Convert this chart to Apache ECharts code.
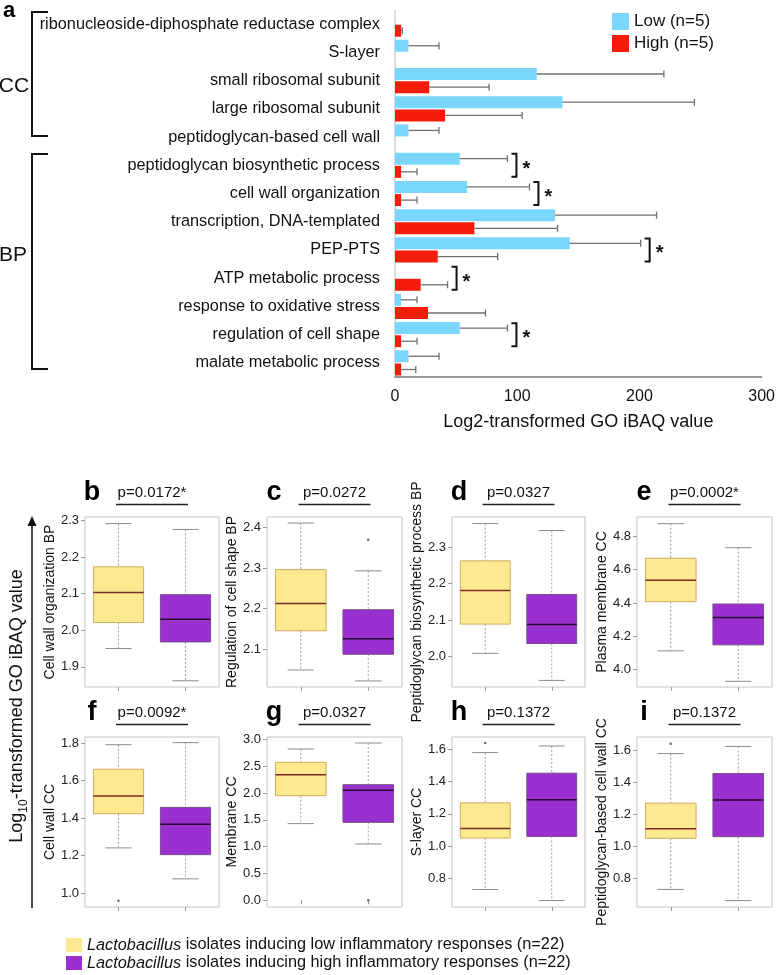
<!DOCTYPE html>
<html>
<head>
<meta charset="utf-8">
<script src="https://cdn.jsdelivr.net/npm/echarts@6/dist/echarts.min.js"></script>
<style>
  html, body { margin: 0; padding: 0; background: #fff; }
  #chart { width: 778px; height: 975px; }
</style>
</head>
<body>
<div id="chart"></div>
<script>
const FONT = '"Liberation Sans", Arial, Helvetica, sans-serif';

// ---- panel a: GO terms, mean and error of log2 iBAQ ----
const goTerms = [
    'ribonucleoside-diphosphate reductase complex',
    'S-layer',
    'small ribosomal subunit',
    'large ribosomal subunit',
    'peptidoglycan-based cell wall',
    'peptidoglycan biosynthetic process',
    'cell wall organization',
    'transcription, DNA-templated',
    'PEP-PTS',
    'ATP metabolic process',
    'response to oxidative stress',
    'regulation of cell shape',
    'malate metabolic process'
];
const lowMean  = [0, 11, 116, 137, 11, 53, 59, 131, 143, 0, 5, 53, 11];
const lowErr   = [0, 25, 104, 108, 25, 39, 51, 83, 58, 0, 13, 39, 25];
const highMean = [5, 0, 28, 41, 0, 5, 5, 65, 35, 21, 27, 5, 5];
const highErr  = [1, 0, 49, 63, 0, 13, 13, 68, 49, 22, 47, 13, 12];
const sigRows  = [5, 6, 8, 9, 11];
const barLegend = ['Low (n=5)', 'High (n=5)'];

// ---- panels b-i: boxplots [min, q1, median, q3, max] ----
const panelLetters = ['b', 'c', 'd', 'e', 'f', 'g', 'h', 'i'];
const panelNames = [
    'Cell wall organization BP',
    'Regulation of cell shape BP',
    'Peptidoglycan biosynthetic process BP',
    'Plasma membrane CC',
    'Cell wall CC',
    'Membrane CC',
    'S-layer CC',
    'Peptidoglycan-based cell wall CC'
];
const panelP = ['p=0.0172*', 'p=0.0272', 'p=0.0327', 'p=0.0002*', 'p=0.0092*', 'p=0.0327', 'p=0.1372', 'p=0.1372'];
const lowBox = [
    [1.950, 2.021, 2.103, 2.173, 2.291],
    [2.048, 2.145, 2.212, 2.296, 2.411],
    [2.009, 2.089, 2.181, 2.262, 2.364],
    [4.113, 4.408, 4.536, 4.669, 4.876],
    [1.241, 1.423, 1.517, 1.660, 1.791],
    [1.429, 1.950, 2.342, 2.571, 2.819],
    [0.729, 1.049, 1.109, 1.268, 1.581],
    [0.730, 1.050, 1.110, 1.270, 1.580]
];
const highBox = [
    [1.862, 1.968, 2.030, 2.097, 2.275],
    [2.021, 2.087, 2.125, 2.197, 2.293],
    [1.935, 2.036, 2.088, 2.170, 2.345],
    [3.930, 4.149, 4.313, 4.394, 4.732],
    [1.076, 1.205, 1.367, 1.457, 1.802],
    [1.050, 1.453, 2.050, 2.155, 2.931],
    [0.660, 1.059, 1.288, 1.453, 1.622],
    [0.660, 1.060, 1.290, 1.455, 1.625]
];
const lowOutliers  = [[], [], [], [], [0.959], [], [1.641], [1.642]];
const highOutliers = [[], [2.370], [], [], [], [0.0], [], []];
const axisMin = [1.845, 2.006, 1.917, 3.896, 0.926, -0.124, 0.620, 0.620];
const axisMax = [2.309, 2.426, 2.382, 4.916, 1.832, 3.043, 1.678, 1.684];
const axisTicks = [
    [1.9, 2.0, 2.1, 2.2, 2.3],
    [2.1, 2.2, 2.3, 2.4],
    [2.0, 2.1, 2.2, 2.3],
    [4.0, 4.2, 4.4, 4.6, 4.8],
    [1.0, 1.2, 1.4, 1.6, 1.8],
    [0.0, 0.5, 1.0, 1.5, 2.0, 2.5, 3.0],
    [0.8, 1.0, 1.2, 1.4, 1.6],
    [0.8, 1.0, 1.2, 1.4, 1.6]
];
const groupNames = ['low', 'high'];
const groupLegend = [
    '{i|Lactobacillus} isolates inducing low inflammatory responses (n=22)',
    '{i|Lactobacillus} isolates inducing high inflammatory responses (n=22)'
];

// layout
const colLeft = [85, 267, 452, 637];
const colWidth = [134, 135, 133, 135];
const colNameGap = [25, 25, 28, 28];
const rowTop = [517, 737];
const panelH = 170;

const chart = echarts.init(document.getElementById('chart'));

function errSeries(means, errs, offset) {
    let data = [];
    means.forEach((m, i) => {
        if (m > 0) data.push([m, i, m + errs[i]]);
    });
    return {
        type: 'custom',
        xAxisIndex: 0,
        yAxisIndex: 0,
        encode: { x: [0, 2], y: 1 },
        data: data,
        z: 3,
        renderItem: (params, api) => {
            let p0 = api.coord([api.value(0), api.value(1)]);
            let p1 = api.coord([api.value(2), api.value(1)]);
            let y = p0[1] + offset;
            let st = { stroke: '#707070', lineWidth: 1.3 };
            return {
                type: 'group',
                children: [
                    { type: 'line', shape: { x1: p0[0], y1: y, x2: p1[0], y2: y }, style: st },
                    { type: 'line', shape: { x1: p1[0], y1: y - 3.5, x2: p1[0], y2: y + 3.5 }, style: st }
                ]
            };
        }
    };
}

function bracketSeries() {
    let data = sigRows.map(i => [i, Math.max(lowMean[i] + lowErr[i], highMean[i] + highErr[i])]);
    return {
        type: 'custom',
        xAxisIndex: 0,
        yAxisIndex: 0,
        encode: { x: 1, y: 0 },
        data: data,
        z: 4,
        renderItem: (params, api) => {
            let c = api.coord([api.value(1), api.value(0)]);
            let x = c[0], y = c[1];
            return {
                type: 'group',
                children: [
                    {
                        type: 'polyline',
                        shape: { points: [[x + 4, y - 11.5], [x + 9, y - 11.5], [x + 9, y + 11.5], [x + 4, y + 11.5]] },
                        style: { stroke: '#111', lineWidth: 2, fill: null }
                    },
                    {
                        type: 'text',
                        style: { text: '*', x: x + 15, y: y + 4, fontSize: 20, fontWeight: 'bold', fontFamily: FONT, fill: '#111', align: 'left', verticalAlign: 'middle' }
                    }
                ]
            };
        }
    };
}

function boxRender(fill, edge, mid) {
    return (params, api) => {
        let idx = api.value(0);
        let p = [1, 2, 3, 4, 5].map(d => api.coord([idx, api.value(d)]));
        let cx = p[0][0];
        let half = api.size([1, 0])[0] * 0.375;
        let cap = half * 0.52;
        let dash = { stroke: '#a0a0a0', lineWidth: 1, lineDash: [2, 2] };
        let solid = { stroke: '#8c8c8c', lineWidth: 1 };
        return {
            type: 'group',
            children: [
                { type: 'line', shape: { x1: cx, y1: p[4][1], x2: cx, y2: p[3][1] }, style: dash },
                { type: 'line', shape: { x1: cx, y1: p[1][1], x2: cx, y2: p[0][1] }, style: dash },
                { type: 'line', shape: { x1: cx - cap, y1: p[4][1], x2: cx + cap, y2: p[4][1] }, style: solid },
                { type: 'line', shape: { x1: cx - cap, y1: p[0][1], x2: cx + cap, y2: p[0][1] }, style: solid },
                { type: 'rect', shape: { x: cx - half, y: p[3][1], width: half * 2, height: p[1][1] - p[3][1] }, style: { fill: fill, stroke: edge, lineWidth: 1 } },
                { type: 'line', shape: { x1: cx - half, y1: p[2][1], x2: cx + half, y2: p[2][1] }, style: { stroke: mid, lineWidth: 1.5 } }
            ]
        };
    };
}

let grids = [{ left: 395, top: 10, width: 371, height: 367 }];
let xAxes = [{
    gridIndex: 0, type: 'value', min: 0, max: 300, interval: 100,
    axisLine: { show: true, lineStyle: { color: '#777', width: 1.5 } },
    axisTick: { show: false }, splitLine: { show: false },
    axisLabel: { fontSize: 16, color: '#111', margin: 12 },
    name: 'Log2-transformed GO iBAQ value', nameLocation: 'middle', nameGap: 36,
    nameTextStyle: { fontSize: 18, color: '#111' }
}];
let yAxes = [{
    gridIndex: 0, type: 'category', data: goTerms, inverse: true,
    axisLine: { show: true, lineStyle: { color: '#d0d0d0', width: 1.5 } },
    axisTick: { show: false },
    axisLabel: { fontSize: 16.3, color: '#111', margin: 15 }
}];
let series = [
    { name: barLegend[0], type: 'bar', xAxisIndex: 0, yAxisIndex: 0, data: lowMean, barWidth: 12, barGap: '10%', itemStyle: { color: '#7ad6fb' } },
    { name: barLegend[1], type: 'bar', xAxisIndex: 0, yAxisIndex: 0, data: highMean, barWidth: 12, barGap: '10%', itemStyle: { color: '#f41d0b' } },
    errSeries(lowMean, lowErr, -6.6),
    errSeries(highMean, highErr, 6.6),
    bracketSeries()
];
let graphics = [
    { type: 'text', x: 3, y: 0, style: { text: 'a', fontSize: 22, fontWeight: 'bold', fontFamily: FONT, fill: '#000' } },
    { type: 'text', x: 14, y: 86, style: { text: 'CC', fontSize: 21, fontFamily: FONT, fill: '#111', align: 'center', verticalAlign: 'middle' } },
    { type: 'polyline', shape: { points: [[48, 12], [32, 12], [32, 136], [48, 136]] }, style: { stroke: '#111', lineWidth: 2, fill: null } },
    { type: 'text', x: 13, y: 255, style: { text: 'BP', fontSize: 21, fontFamily: FONT, fill: '#111', align: 'center', verticalAlign: 'middle' } },
    { type: 'polyline', shape: { points: [[48, 154], [32, 154], [32, 369], [48, 369]] }, style: { stroke: '#111', lineWidth: 2, fill: null } },
    // shared y label with arrow
    { type: 'line', shape: { x1: 32, y1: 908, x2: 32, y2: 522 }, style: { stroke: '#111', lineWidth: 1.5 } },
    { type: 'polygon', shape: { points: [[27.5, 526], [36.5, 526], [32, 516]] }, style: { fill: '#111' } },
    {
        type: 'text', x: 15, y: 706, rotation: Math.PI / 2,
        style: {
            text: '{n|Log}{s|10}{n|-transformed GO iBAQ value}',
            align: 'center', verticalAlign: 'middle', fill: '#111',
            rich: {
                n: { fontSize: 18, fontFamily: FONT, lineHeight: 22, verticalAlign: 'bottom' },
                s: { fontSize: 12, fontFamily: FONT, lineHeight: 22, verticalAlign: 'bottom', padding: [0, 0, -4, 0] }
            }
        }
    }
];

panelLetters.forEach((letter, k) => {
    let col = k % 4, row = Math.floor(k / 4);
    let left = colLeft[col], top = rowTop[row], w = colWidth[col];
    let gi = k + 1;
    grids.push({ left: left, top: top, width: w, height: panelH, show: true, borderColor: '#c4c4c4', borderWidth: 1 });
    xAxes.push({
        gridIndex: gi, type: 'category', data: groupNames,
        axisLine: { show: false },
        axisTick: { show: true, alignWithLabel: true, length: 4, lineStyle: { color: '#999' } },
        axisLabel: { show: false }
    });
    yAxes.push({
        gridIndex: gi, type: 'value', min: axisMin[k], max: axisMax[k],
        axisLine: { show: false },
        splitLine: { show: false },
        axisTick: { show: true, length: 4, customValues: axisTicks[k], lineStyle: { color: '#999' } },
        axisLabel: { customValues: axisTicks[k], formatter: v => v.toFixed(1), fontSize: 13, color: '#222', margin: 6 },
        name: panelNames[k], nameLocation: 'middle', nameGap: colNameGap[col],
        nameTextStyle: { fontSize: 14, color: '#111' }
    });
    series.push({
        name: groupNames[0], type: 'custom', xAxisIndex: gi, yAxisIndex: gi,
        encode: { x: 0, y: [1, 2, 3, 4, 5] },
        itemStyle: { color: '#fde98f' },
        data: [[0].concat(lowBox[k])],
        renderItem: boxRender('#fde98f', '#d2aa62', '#7a2b2b')
    });
    series.push({
        name: groupNames[1], type: 'custom', xAxisIndex: gi, yAxisIndex: gi,
        encode: { x: 0, y: [1, 2, 3, 4, 5] },
        itemStyle: { color: '#9a30d0' },
        data: [[1].concat(highBox[k])],
        renderItem: boxRender('#9a30d0', '#74508a', '#250a35')
    });
    series.push({
        type: 'scatter', xAxisIndex: gi, yAxisIndex: gi, symbolSize: 2.5,
        itemStyle: { color: '#444' }, silent: true,
        data: lowOutliers[k].map(v => [0, v]).concat(highOutliers[k].map(v => [1, v]))
    });
    let cx = left + w / 2;
    graphics.push({ type: 'text', x: left + 7, y: top - 24, style: { text: letter, fontSize: 27, fontWeight: 'bold', fontFamily: FONT, fill: '#000', align: 'center', verticalAlign: 'middle' } });
    graphics.push({ type: 'text', x: cx, y: top - 24, style: { text: panelP[k], fontSize: 15, fontFamily: FONT, fill: '#111', align: 'center', verticalAlign: 'middle' } });
    graphics.push({ type: 'line', shape: { x1: cx - 36, y1: top - 12.5, x2: cx + 36, y2: top - 12.5 }, style: { stroke: '#222', lineWidth: 1.5 } });
});

function groupLegendBox(i, top) {
    return {
        data: [groupNames[i]], orient: 'vertical', left: 66, top: top, padding: 0,
        itemWidth: 16, itemHeight: 14, icon: 'rect',
        formatter: name => groupLegend[groupNames.indexOf(name)],
        textStyle: { fontSize: 16.3, color: '#111', rich: { i: { fontSize: 16.3, fontStyle: 'italic', color: '#111' } } }
    };
}

let option = {
    animation: false,
    textStyle: { fontFamily: FONT },
    grid: grids,
    xAxis: xAxes,
    yAxis: yAxes,
    legend: [
        {
            data: barLegend, orient: 'vertical', left: 612, top: 13, padding: 0,
            itemWidth: 17, itemHeight: 17, itemGap: 5, icon: 'rect',
            textStyle: { fontSize: 17, color: '#111' }
        },
        groupLegendBox(0, 937),
        groupLegendBox(1, 955)
    ],
    graphic: graphics,
    series: series
};

chart.setOption(option);
</script>
</body>
</html>
